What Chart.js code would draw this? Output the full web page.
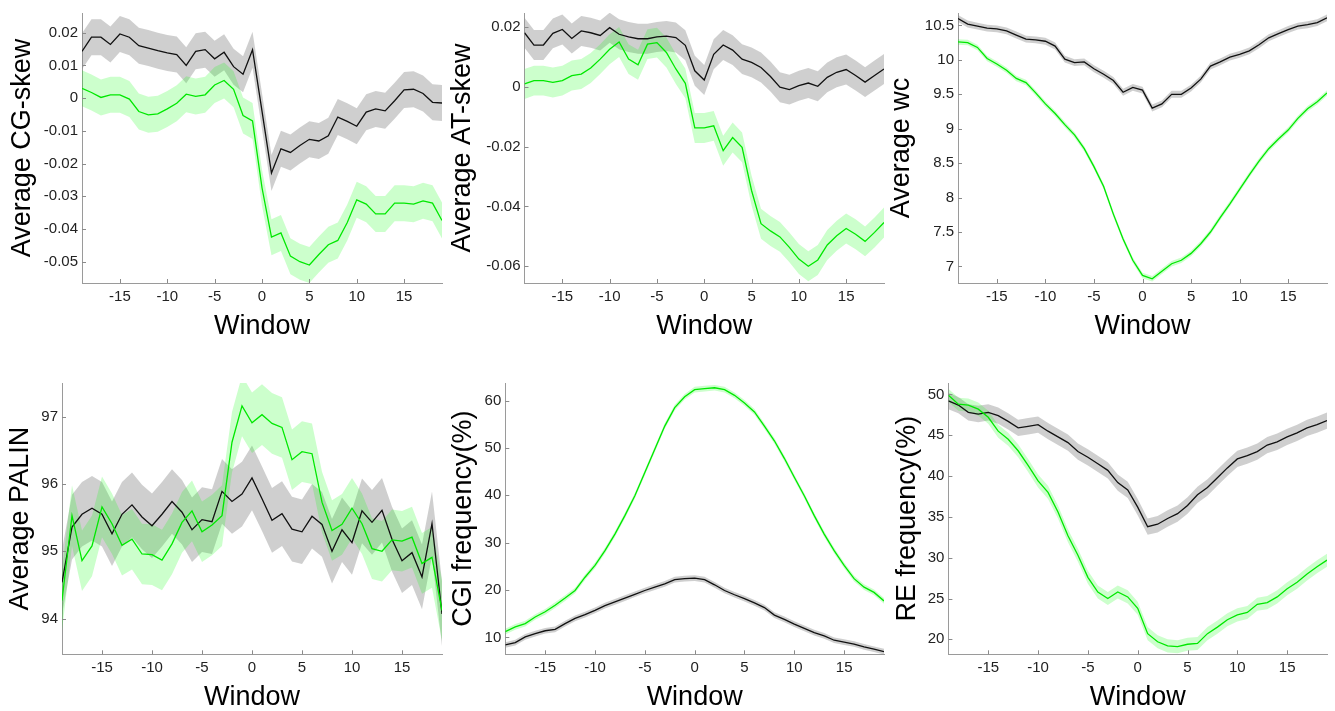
<!DOCTYPE html>
<html>
<head>
<meta charset="utf-8">
<script src="https://cdn.jsdelivr.net/npm/chart.js@4/dist/chart.umd.min.js"></script>
<style>
  body { margin: 0; background: #fff; }
  #wrap { position: relative; width: 1335px; height: 711px; overflow: hidden; }
  canvas { position: absolute; }
</style>
</head>
<body>
<div id="wrap">
  <canvas id="c1" width="450" height="340" style="left:0px;top:0px"></canvas>
  <canvas id="c2" width="445" height="340" style="left:445px;top:0px"></canvas>
  <canvas id="c3" width="450" height="340" style="left:885px;top:0px"></canvas>
  <canvas id="c4" width="450" height="341" style="left:0px;top:370px"></canvas>
  <canvas id="c5" width="445" height="341" style="left:445px;top:370px"></canvas>
  <canvas id="c6" width="450" height="341" style="left:885px;top:370px"></canvas>
</div>
<script>
// window positions (x axis of every panel)
const windows = [-19,-18,-17,-16,-15,-14,-13,-12,-11,-10,-9,-8,-7,-6,-5,-4,-3,-2,-1,0,1,2,3,4,5,6,7,8,9,10,11,12,13,14,15,16,17,18,19];
const xTicks = [-15,-10,-5,0,5,10,15];

// ---- Average CG-skew
const cgBlack = [0.0143,0.0186,0.0186,0.0164,0.0196,0.0186,0.016,0.0153,0.0145,0.0138,0.0133,0.010,0.0143,0.0148,0.012,0.014,0.0096,0.0073,0.0148,-0.004,-0.0229,-0.0155,-0.0166,-0.0145,-0.0126,-0.0131,-0.0115,-0.0058,-0.0071,-0.0086,-0.0043,-0.0033,-0.0039,-0.0008,0.0025,0.0027,0.0014,-0.0013,-0.0015];
const cgGreen = [0.003,0.0017,0.0002,0.001,0.001,-0.0003,-0.0041,-0.0051,-0.0048,-0.0033,-0.0016,0.0012,0.0005,0.001,0.004,0.0054,0.0027,-0.0053,-0.007,-0.0274,-0.0425,-0.0412,-0.0483,-0.050,-0.051,-0.0478,-0.0448,-0.0435,-0.038,-0.0311,-0.0324,-0.0354,-0.0354,-0.0321,-0.0321,-0.0324,-0.0314,-0.0321,-0.0374];
const cgErr = [0.0055, 0.0055];
const cgTicks = [0.02,0.01,0,-0.01,-0.02,-0.03,-0.04,-0.05];

// ---- Average AT-skew
const atBlack = [0.018,0.0139,0.0139,0.0178,0.0191,0.0161,0.0186,0.018,0.0171,0.0197,0.0175,0.0166,0.016,0.016,0.0166,0.0169,0.0164,0.0138,0.0053,0.0022,0.0108,0.0139,0.0122,0.0092,0.0081,0.0064,0.0034,-0.0002,-0.001,0.0003,0.0012,0.0001,0.0031,0.0048,0.0057,0.0037,0.0015,0.0037,0.0059];
const atGreen = [0.0009,0.002,0.002,0.0014,0.002,0.0037,0.0042,0.0062,0.0092,0.0125,0.0149,0.0092,0.0073,0.0142,0.0147,0.0114,0.0059,0.0011,-0.0138,-0.0138,-0.0131,-0.0214,-0.017,-0.0203,-0.0347,-0.0458,-0.0482,-0.0502,-0.0537,-0.0576,-0.06,-0.0579,-0.0529,-0.0498,-0.0474,-0.0493,-0.0517,-0.0487,-0.0454];
const atErr = [0.005, 0.005];
const atTicks = [0.02,0,-0.02,-0.04,-0.06];

// ---- Average wc
const wcBlack = [10.6,10.52,10.49,10.46,10.45,10.42,10.36,10.30,10.29,10.27,10.20,10.01,9.96,9.97,9.87,9.79,9.70,9.53,9.60,9.56,9.30,9.36,9.50,9.50,9.59,9.72,9.91,9.97,10.04,10.08,10.13,10.22,10.32,10.38,10.44,10.49,10.51,10.54,10.61];
const wcGreen = [10.26,10.25,10.18,10.02,9.94,9.85,9.73,9.67,9.52,9.36,9.22,9.06,8.91,8.71,8.45,8.16,7.76,7.40,7.09,6.87,6.82,6.93,7.04,7.09,7.19,7.33,7.50,7.71,7.91,8.12,8.33,8.53,8.71,8.85,8.98,9.15,9.29,9.39,9.52];
const wcErr = [0.05, 0.04];
const wcTicks = [10.5,10,9.5,9,8.5,8,7.5,7];

// ---- Average PALIN
const palBlack = [94.54,95.36,95.55,95.64,95.55,95.26,95.55,95.69,95.51,95.38,95.55,95.74,95.58,95.32,95.47,95.44,95.89,95.74,95.85,96.09,95.78,95.46,95.56,95.33,95.29,95.52,95.40,95.0,95.32,95.13,95.60,95.43,95.61,95.18,94.86,94.98,94.62,95.41,94.07];
const palGreen = [94.27,95.53,94.86,95.08,95.66,95.41,95.09,95.18,94.96,94.95,94.87,95.11,95.43,95.60,95.29,95.39,95.53,96.62,97.16,96.91,97.03,96.90,96.84,96.36,96.48,96.45,95.73,95.31,95.40,95.64,95.41,95.04,95.0,95.17,95.15,95.21,94.82,94.91,94.12];
const palErr = [0.48, 0.45];
const palTicks = [97,96,95,94];

// ---- CGI frequency(%)
const cgiBlack = [8.4,8.9,10.1,10.8,11.4,11.7,12.9,14.0,14.8,15.7,16.7,17.5,18.3,19.1,19.9,20.6,21.3,22.2,22.4,22.5,22.2,21.1,19.9,19.0,18.2,17.3,16.3,14.7,13.8,12.8,11.9,11.0,10.3,9.4,9.0,8.6,8.0,7.5,7.0];
const cgiGreen = [11.2,12.2,12.9,14.3,15.4,16.8,18.3,19.9,22.7,25.2,28.3,31.8,35.7,39.9,44.8,49.7,54.6,58.5,60.8,62.3,62.5,62.7,62.3,61.1,59.5,57.6,54.6,51.5,47.8,43.8,39.9,35.7,31.8,28.3,25.2,22.4,20.6,19.5,17.7];
const cgiErr = [0.6, 0.6];
const cgiTicks = [60,50,40,30,20,10];

// ---- RE frequency(%)
const reBlack = [49.2,48.7,47.8,47.6,47.8,47.4,46.7,45.9,46.1,46.3,45.5,44.8,44.1,43.0,42.3,41.5,40.7,39.2,38.3,36.2,33.8,34.1,34.8,35.4,36.4,37.7,38.6,39.8,41.0,42.1,42.5,43.0,43.8,44.2,44.8,45.3,45.9,46.3,46.8];
const reGreen = [49.9,48.8,48.7,48.2,47.2,45.5,44.5,43.1,41.3,39.4,38.0,35.6,32.7,30.3,27.6,25.8,25.0,25.8,25.2,23.8,20.7,19.7,19.2,19.1,19.4,19.5,20.7,21.5,22.4,23.0,23.3,24.3,24.5,25.2,26.2,27.0,28.0,28.9,29.7];
const reErr = [1.0, 0.8];
const reTicks = [50,45,40,35,30,25,20];

const FONT = "'Liberation Sans', Arial, Helvetica, sans-serif";
const BLACK = '#111111';
const GREEN = 'rgb(0,232,0)';
const GREY_BAND = 'rgba(128,128,128,0.38)';
const GREEN_BAND = 'rgba(0,255,0,0.2)';

// small inward tick marks, matlab style
const innerTicks = {
  id: 'innerTicks',
  afterDraw(chart) {
    const ctx = chart.ctx, a = chart.chartArea;
    ctx.save();
    ctx.strokeStyle = '#8a8a8a';
    ctx.lineWidth = 1;
    ctx.beginPath();
    chart.scales.x.ticks.forEach(t => {
      const px = Math.round(chart.scales.x.getPixelForValue(t.value)) + 0.5;
      ctx.moveTo(px, a.bottom);
      ctx.lineTo(px, a.bottom - 4);
    });
    chart.scales.y.ticks.forEach(t => {
      const py = Math.round(chart.scales.y.getPixelForValue(t.value)) + 0.5;
      ctx.moveTo(a.left, py);
      ctx.lineTo(a.left + 4, py);
    });
    ctx.stroke();
    ctx.restore();
  }
};

function pts(arr, off) {
  return arr.map((v, i) => ({ x: windows[i], y: v + off }));
}

function makePanel(id, p) {
  const line = (data, color, order) => ({
    data: data, borderColor: color, borderWidth: 1.3, pointRadius: 0,
    fill: false, tension: 0, order: order
  });
  const band = (data, fill, bg, order) => ({
    data: data, borderWidth: 0, borderColor: 'rgba(0,0,0,0)', pointRadius: 0,
    fill: fill, backgroundColor: bg, tension: 0, order: order
  });
  return new Chart(id, {
    type: 'line',
    data: {
      datasets: [
        band(pts(p.black, -p.err[0]), false, GREY_BAND, 6),
        band(pts(p.black, p.err[0]), '-1', GREY_BAND, 5),
        band(pts(p.green, -p.err[1]), false, GREEN_BAND, 4),
        band(pts(p.green, p.err[1]), '-1', GREEN_BAND, 3),
        line(pts(p.black, 0), BLACK, 2),
        line(pts(p.green, 0), GREEN, 1)
      ]
    },
    options: {
      responsive: false,
      animation: false,
      events: [],
      layout: { padding: { left: 0, top: p.top, right: p.right, bottom: 0 } },
      plugins: { legend: { display: false }, tooltip: { enabled: false } },
      scales: {
        x: {
          type: 'linear', min: -19, max: 19,
          afterFit: s => { s.height = p.xh; },
          afterBuildTicks: s => { s.ticks = xTicks.map(v => ({ value: v })); },
          grid: { drawOnChartArea: false, drawTicks: false },
          border: { display: true, color: '#9a9a9a', width: 1 },
          ticks: { color: '#222', font: { family: FONT, size: 15 }, padding: 5, maxRotation: 0 },
          title: { display: true, text: 'Window', color: '#000',
                   font: { family: FONT, size: 27, lineHeight: 1 }, padding: { top: 6, bottom: 0 } }
        },
        y: {
          type: 'linear', min: p.min, max: p.max,
          afterFit: s => { s.width = p.yw; },
          afterBuildTicks: s => { s.ticks = p.ticks.map(v => ({ value: v })); },
          grid: { drawOnChartArea: false, drawTicks: false },
          border: { display: true, color: '#9a9a9a', width: 1 },
          ticks: { color: '#222', font: { family: FONT, size: 15 }, padding: 4,
                   callback: v => String(v) },
          title: { display: true, text: p.label, color: '#000',
                   font: { family: FONT, size: 27, lineHeight: 1 }, padding: { top: p.tp, bottom: 0 } }
        }
      }
    },
    plugins: [innerTicks]
  });
}

makePanel('c1', { black: cgBlack, green: cgGreen, err: cgErr, ticks: cgTicks, label: 'Average CG-skew',
  min: -0.0565, max: 0.026, top: 10, right: 8, xh: 57, yw: 82, tp: 9.5 });
makePanel('c2', { black: atBlack, green: atGreen, err: atErr, ticks: atTicks, label: 'Average AT-skew',
  min: -0.0656, max: 0.0246, top: 10, right: 6, xh: 57, yw: 79.5, tp: 4.5 });
makePanel('c3', { black: wcBlack, green: wcGreen, err: wcErr, ticks: wcTicks, label: 'Average wc',
  min: 6.76, max: 10.68, top: 10, right: 8, xh: 57, yw: 73, tp: 3.2 });
makePanel('c4', { black: palBlack, green: palGreen, err: palErr, ticks: palTicks, label: 'Average PALIN',
  min: 93.47, max: 97.5, top: 11.7, right: 8, xh: 56.7, yw: 62, tp: 7.2 });
makePanel('c5', { black: cgiBlack, green: cgiGreen, err: cgiErr, ticks: cgiTicks, label: 'CGI frequency(%)',
  min: 6.43, max: 63.7, top: 11.7, right: 6, xh: 56.7, yw: 60.3, tp: 4.8 });
makePanel('c6', { black: reBlack, green: reGreen, err: reErr, ticks: reTicks, label: 'RE frequency(%)',
  min: 18.17, max: 51.4, top: 11.7, right: 8, xh: 56.7, yw: 63.4, tp: 8.8 });
</script>
</body>
</html>
